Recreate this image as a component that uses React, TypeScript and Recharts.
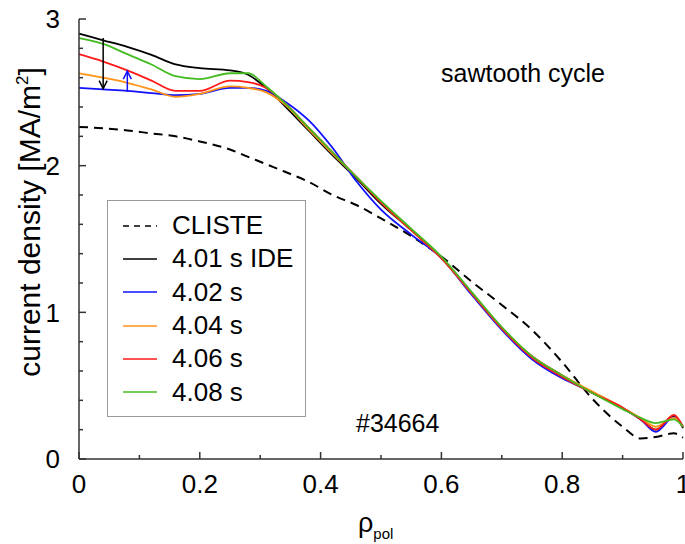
import { LineChart, Line, XAxis, YAxis, Legend, ReferenceLine, ReferenceDot } from "recharts";

const rho = [0, 0.04, 0.08, 0.12, 0.16, 0.2, 0.25, 0.28, 0.31, 0.34, 0.38, 0.42, 0.46, 0.5, 0.55, 0.6, 0.65, 0.7, 0.75, 0.8, 0.85, 0.9, 0.93, 0.955, 0.985, 1];
const cliste = [2.264, 2.255, 2.24, 2.22, 2.2, 2.165, 2.11, 2.06, 2.01, 1.96, 1.89, 1.8, 1.73, 1.64, 1.52, 1.38, 1.21, 1.05, 0.88, 0.66, 0.41, 0.22, 0.14, 0.15, 0.175, 0.145];
const ide401 = [2.9, 2.855, 2.81, 2.755, 2.69, 2.665, 2.65, 2.62, 2.53, 2.41, 2.24, 2.07, 1.91, 1.74, 1.56, 1.37, 1.13, 0.89, 0.7, 0.57, 0.45, 0.35, 0.27, 0.2, 0.29, 0.21];
const t402 = [2.53, 2.52, 2.51, 2.495, 2.48, 2.49, 2.53, 2.53, 2.51, 2.44, 2.31, 2.12, 1.89, 1.7, 1.53, 1.37, 1.12, 0.88, 0.68, 0.55, 0.455, 0.345, 0.27, 0.185, 0.285, 0.22];
const t404 = [2.63, 2.6, 2.565, 2.52, 2.47, 2.49, 2.54, 2.53, 2.5, 2.42, 2.25, 2.08, 1.92, 1.75, 1.56, 1.37, 1.13, 0.89, 0.7, 0.57, 0.46, 0.35, 0.28, 0.22, 0.28, 0.22];
const t406 = [2.76, 2.71, 2.65, 2.58, 2.51, 2.51, 2.58, 2.57, 2.53, 2.43, 2.26, 2.09, 1.92, 1.75, 1.56, 1.37, 1.13, 0.89, 0.69, 0.56, 0.45, 0.35, 0.27, 0.2, 0.3, 0.22];
const t408 = [2.87, 2.83, 2.76, 2.69, 2.61, 2.59, 2.63, 2.63, 2.54, 2.43, 2.26, 2.09, 1.92, 1.76, 1.57, 1.38, 1.14, 0.9, 0.7, 0.57, 0.45, 0.34, 0.28, 0.245, 0.27, 0.22];

const xTicks = [0, 0.1, 0.2, 0.3, 0.4, 0.5, 0.6, 0.7, 0.8, 0.9, 1];
const xMajor = [0, 0.2, 0.4, 0.6, 0.8, 1];
const yTicks = [0, 0.2, 0.4, 0.6, 0.8, 1, 1.2, 1.4, 1.6, 1.8, 2, 2.2, 2.4, 2.6, 2.8, 3];
const yMajor = [0, 1, 2, 3];

const series = [
  { key: "cliste", name: "CLISTE", color: "#000000", dash: "9 6" },
  { key: "ide401", name: "4.01 s IDE", color: "#000000" },
  { key: "t402", name: "4.02 s", color: "#1010ff" },
  { key: "t404", name: "4.04 s", color: "#ff9419" },
  { key: "t406", name: "4.06 s", color: "#ff1a1a" },
  { key: "t408", name: "4.08 s", color: "#44bb22" },
];

const data = rho.map((r, i) => ({
  rho: r,
  cliste: cliste[i],
  ide401: ide401[i],
  t402: t402[i],
  t404: t404[i],
  t406: t406[i],
  t408: t408[i],
}));

const AXIS = "#333";
const FONT = "Liberation Sans, Arial, sans-serif";

function BottomTick(props: any) {
  const { x, y, payload } = props;
  const major = xMajor.includes(payload.value);
  return (
    <g>
      <line x1={x} x2={x} y1={y} y2={y - (major ? 7 : 4)} stroke={AXIS} strokeWidth={1.5} />
      {major && (
        <text x={x} y={y + 34} textAnchor="middle" fontSize={26} fontFamily={FONT} fill="#000">
          {payload.value}
        </text>
      )}
    </g>
  );
}

function TopTick(props: any) {
  const { x, y, payload } = props;
  const major = xMajor.includes(payload.value);
  return <line x1={x} x2={x} y1={y} y2={y + (major ? 7 : 5)} stroke={AXIS} strokeWidth={1.5} />;
}

function LeftTick(props: any) {
  const { x, y, payload } = props;
  const major = yMajor.includes(payload.value);
  return (
    <g>
      <line x1={x} x2={x + (major ? 7 : 4)} y1={y} y2={y} stroke={AXIS} strokeWidth={1.5} />
      {major && (
        <text x={x - 19} y={y} dy="0.36em" textAnchor="end" fontSize={26} fontFamily={FONT} fill="#000">
          {payload.value}
        </text>
      )}
    </g>
  );
}

function RightTick(props: any) {
  const { x, y, payload } = props;
  const major = yMajor.includes(payload.value);
  return <line x1={x} x2={x - (major ? 7 : 5)} y1={y} y2={y} stroke={AXIS} strokeWidth={1.5} />;
}

function LegendBox(props: any) {
  const order = series.map((s) => s.key);
  const items = [...(props.payload || [])].sort(
    (a: any, b: any) => order.indexOf(a.dataKey) - order.indexOf(b.dataKey)
  );
  return (
    <div
      style={{
        width: 199,
        height: 217,
        border: "1px solid #999",
        boxSizing: "border-box",
        background: "#fff",
        paddingTop: 8,
        fontFamily: FONT,
      }}
    >
      {items.map((item: any) => {
        const s = series.find((d) => d.key === item.dataKey);
        return (
          <div key={item.dataKey} style={{ display: "flex", alignItems: "center", height: 33.3 }}>
            <svg width={34} height={10} style={{ marginLeft: 15 }}>
              <line
                x1={0}
                x2={34}
                y1={5}
                y2={5}
                stroke={item.color}
                strokeWidth={1.5}
                strokeDasharray={s && s.dash ? "6 5" : undefined}
              />
            </svg>
            <span style={{ marginLeft: 15, fontSize: 26, lineHeight: "33px", color: "#000" }}>{item.value}</span>
          </div>
        );
      })}
    </div>
  );
}

const arrowDown = (p: any) => (
  <polyline points={`${p.cx - 4},${p.cy - 8} ${p.cx},${p.cy} ${p.cx + 4},${p.cy - 8}`} fill="none" stroke="#000" strokeWidth={1.5} />
);
const arrowUp = (p: any) => (
  <polyline points={`${p.cx - 4},${p.cy + 8} ${p.cx},${p.cy} ${p.cx + 4},${p.cy + 8}`} fill="none" stroke="#1010ff" strokeWidth={1.5} />
);

export default function App() {
  return (
    <div style={{ position: "absolute", left: 0, top: 0, background: "#fff", fontFamily: FONT }}>
      <LineChart width={685} height={544} data={data} margin={{ top: 19, right: 2, bottom: 55, left: 0 }}>
        <XAxis
          dataKey="rho"
          type="number"
          domain={[0, 1]}
          ticks={xTicks}
          interval={0}
          height={30}
          tickSize={0}
          tickMargin={0}
          tickLine={false}
          tick={BottomTick}
          axisLine={{ stroke: AXIS, strokeWidth: 1.5 }}
        />
        <XAxis
          xAxisId="top"
          orientation="top"
          type="number"
          domain={[0, 1]}
          ticks={xTicks}
          interval={0}
          height={0}
          tickSize={0}
          tickMargin={0}
          tickLine={false}
          tick={TopTick}
          axisLine={{ stroke: AXIS, strokeWidth: 1.5 }}
        />
        <YAxis
          type="number"
          domain={[0, 3]}
          ticks={yTicks}
          interval={0}
          width={79}
          tickSize={0}
          tickMargin={0}
          tickLine={false}
          tick={LeftTick}
          axisLine={{ stroke: AXIS, strokeWidth: 1.5 }}
        />
        <YAxis
          yAxisId="right"
          orientation="right"
          type="number"
          domain={[0, 3]}
          ticks={yTicks}
          interval={0}
          width={0}
          tickSize={0}
          tickMargin={0}
          tickLine={false}
          tick={RightTick}
          axisLine={{ stroke: AXIS, strokeWidth: 1.5 }}
        />
        <Legend
          layout="vertical"
          align="center"
          verticalAlign="middle"
          content={LegendBox}
          wrapperStyle={{ left: 107, top: 200, width: 199, height: 217 }}
        />
        {series.map((s) => (
          <Line
            key={s.key}
            dataKey={s.key}
            name={s.name}
            type="monotone"
            stroke={s.color}
            strokeWidth={s.dash ? 2 : 1.8}
            strokeDasharray={s.dash}
            dot={false}
            activeDot={false}
            isAnimationActive={false}
          />
        ))}
        <ReferenceLine segment={[{ x: 0.04, y: 2.87 }, { x: 0.04, y: 2.525 }]} stroke="#000" strokeWidth={1.5} />
        <ReferenceDot x={0.04} y={2.525} r={0} shape={arrowDown} />
        <ReferenceLine segment={[{ x: 0.08, y: 2.505 }, { x: 0.08, y: 2.645 }]} stroke="#1010ff" strokeWidth={1.5} />
        <ReferenceDot x={0.08} y={2.645} r={0} shape={arrowUp} />
        <text x={441} y={82} fontSize={25} fontFamily={FONT} fill="#000">
          sawtooth cycle
        </text>
        <text x={356} y={432} fontSize={25} fontFamily={FONT} fill="#000">
          #34664
        </text>
        <text x={358} y={532} fontSize={27} fontFamily={FONT} fill="#000">
          ρ
          <tspan fontSize={15} dy={7}>
            pol
          </tspan>
        </text>
        <text
          x={40}
          y={222}
          transform="rotate(-90 40 222)"
          textAnchor="middle"
          fontSize={30}
          fontFamily={FONT}
          fill="#000"
        >
          current density [MA/m
          <tspan fontSize={17} dy={-12}>
            2
          </tspan>
          <tspan dy={12}>]</tspan>
        </text>
      </LineChart>
    </div>
  );
}
